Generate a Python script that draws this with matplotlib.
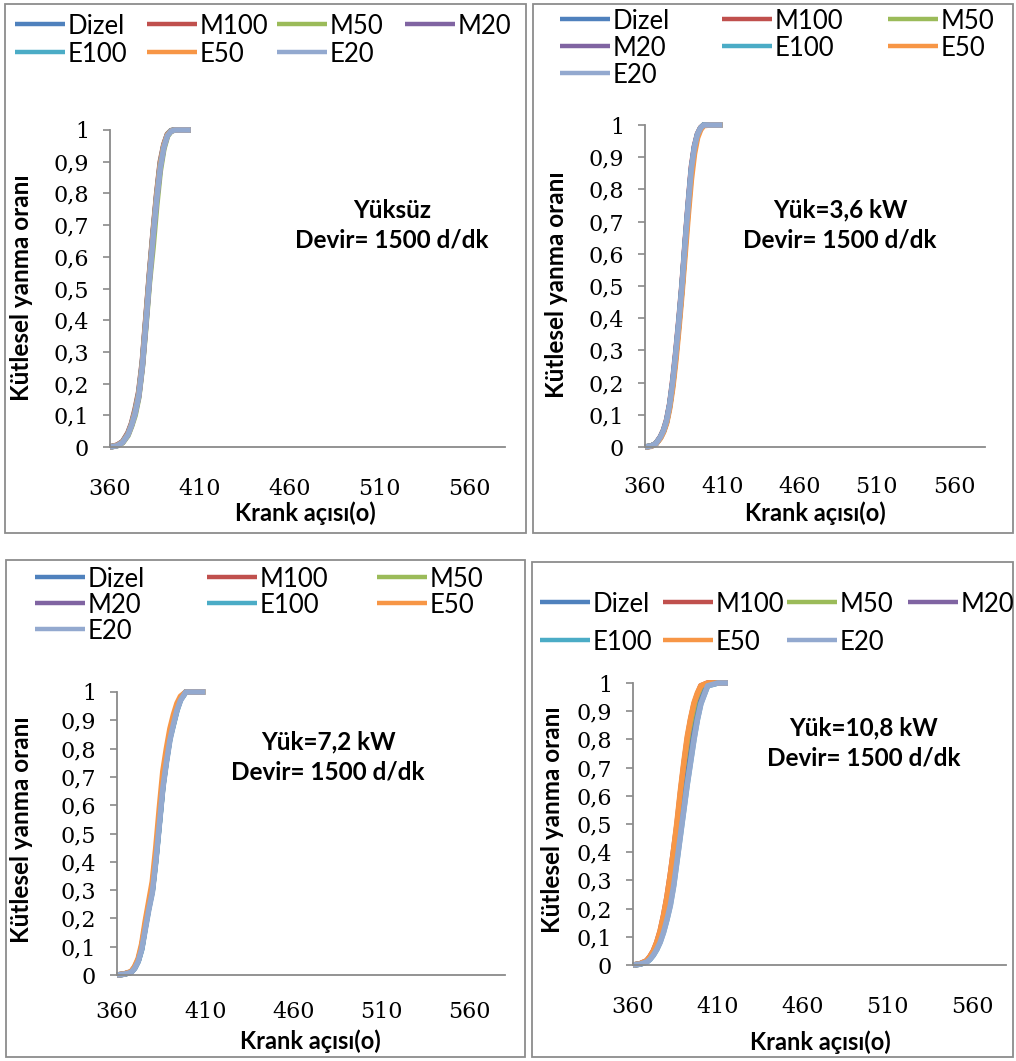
import matplotlib
matplotlib.use("Agg")
from matplotlib import pyplot as plt
from matplotlib.patches import Rectangle
from matplotlib.lines import Line2D

# seri isimleri ve renkleri (Excel 2007 varsayilan)
series = ['Dizel', 'M100', 'M50', 'M20', 'E100', 'E50', 'E20']
colors = ['#4F81BD', '#C0504D', '#9BBB59', '#8064A2', '#4BACC6', '#F79646', '#93A9CF']

yticks = [0, 0.1, 0.2, 0.3, 0.4, 0.5, 0.6, 0.7, 0.8, 0.9, 1.0]
ytick_labels = ['0', '0,1', '0,2', '0,3', '0,4', '0,5', '0,6', '0,7', '0,8', '0,9', '1']
xticks = [360, 410, 460, 510, 560]

# Yuksuz
x_p1 = [360, 364, 367, 370, 372, 374, 376, 378, 380, 382, 384, 386, 388, 390, 392, 394, 396, 400, 405]
p1 = {
    'Dizel': [0, 0.005, 0.015, 0.04, 0.07, 0.11, 0.165, 0.26, 0.40, 0.54, 0.67, 0.79, 0.89, 0.95, 0.985, 0.997, 1, 1, 1],
    'M100':  [0, 0.006, 0.017, 0.045, 0.075, 0.12, 0.175, 0.27, 0.41, 0.55, 0.68, 0.80, 0.90, 0.955, 0.987, 0.998, 1, 1, 1],
    'M50':   [0, 0.004, 0.013, 0.036, 0.065, 0.10, 0.155, 0.25, 0.38, 0.52, 0.63, 0.76, 0.87, 0.94, 0.98, 0.996, 1, 1, 1],
    'M20':   [0, 0.005, 0.015, 0.04, 0.07, 0.11, 0.16, 0.255, 0.39, 0.535, 0.665, 0.785, 0.885, 0.948, 0.984, 0.997, 1, 1, 1],
    'E100':  [0, 0.005, 0.016, 0.042, 0.072, 0.115, 0.17, 0.265, 0.405, 0.545, 0.675, 0.795, 0.895, 0.952, 0.986, 0.998, 1, 1, 1],
    'E50':   [0, 0.005, 0.015, 0.04, 0.07, 0.11, 0.165, 0.26, 0.40, 0.54, 0.67, 0.79, 0.89, 0.95, 0.985, 0.997, 1, 1, 1],
    'E20':   [0, 0.004, 0.014, 0.038, 0.068, 0.105, 0.16, 0.255, 0.39, 0.53, 0.66, 0.78, 0.88, 0.945, 0.982, 0.996, 1, 1, 1],
}

# Yuk=3,6 kW
x_p2 = [360, 364, 367, 370, 372, 374, 376, 378, 380, 382, 384, 386, 388, 390, 392, 394, 396, 398, 402, 410]
p2 = {
    'Dizel': [0, 0.003, 0.01, 0.03, 0.05, 0.08, 0.13, 0.20, 0.29, 0.39, 0.50, 0.63, 0.75, 0.86, 0.93, 0.97, 0.99, 1, 1, 1],
    'M100':  [0, 0.003, 0.011, 0.032, 0.053, 0.085, 0.135, 0.21, 0.30, 0.40, 0.51, 0.64, 0.76, 0.87, 0.935, 0.973, 0.992, 1, 1, 1],
    'M50':   [0, 0.003, 0.01, 0.029, 0.049, 0.078, 0.127, 0.195, 0.285, 0.385, 0.495, 0.62, 0.74, 0.85, 0.925, 0.968, 0.99, 1, 1, 1],
    'M20':   [0, 0.003, 0.01, 0.03, 0.05, 0.08, 0.13, 0.20, 0.29, 0.39, 0.50, 0.63, 0.75, 0.86, 0.93, 0.97, 0.99, 1, 1, 1],
    'E100':  [0, 0.003, 0.01, 0.03, 0.05, 0.08, 0.13, 0.20, 0.29, 0.39, 0.50, 0.63, 0.75, 0.86, 0.93, 0.97, 0.99, 1, 1, 1],
    'E50':   [0, 0.002, 0.009, 0.027, 0.046, 0.074, 0.12, 0.185, 0.27, 0.37, 0.48, 0.60, 0.72, 0.83, 0.91, 0.96, 0.985, 0.998, 1, 1],
    'E20':   [0, 0.003, 0.01, 0.031, 0.051, 0.082, 0.132, 0.205, 0.295, 0.395, 0.505, 0.635, 0.755, 0.865, 0.932, 0.972, 0.991, 1, 1, 1],
}

# Yuk=7,2 kW
x_p3 = [360, 364, 368, 370, 372, 374, 376, 378, 380, 382, 384, 386, 388, 390, 392, 394, 396, 399, 404, 410]
p3 = {
    'Dizel': [0, 0.003, 0.01, 0.025, 0.05, 0.095, 0.17, 0.24, 0.30, 0.41, 0.54, 0.67, 0.76, 0.84, 0.89, 0.94, 0.975, 1, 1, 1],
    'M100':  [0, 0.003, 0.011, 0.027, 0.053, 0.10, 0.175, 0.245, 0.31, 0.42, 0.55, 0.68, 0.77, 0.85, 0.90, 0.945, 0.978, 1, 1, 1],
    'M50':   [0, 0.003, 0.01, 0.025, 0.05, 0.095, 0.17, 0.24, 0.30, 0.41, 0.54, 0.67, 0.76, 0.84, 0.89, 0.94, 0.975, 1, 1, 1],
    'M20':   [0, 0.003, 0.01, 0.025, 0.05, 0.095, 0.17, 0.24, 0.30, 0.41, 0.54, 0.67, 0.76, 0.84, 0.89, 0.94, 0.975, 1, 1, 1],
    'E100':  [0, 0.003, 0.01, 0.024, 0.048, 0.09, 0.165, 0.235, 0.295, 0.405, 0.535, 0.665, 0.755, 0.835, 0.885, 0.935, 0.972, 1, 1, 1],
    'E50':   [0, 0.004, 0.012, 0.03, 0.058, 0.11, 0.19, 0.26, 0.33, 0.45, 0.59, 0.72, 0.80, 0.87, 0.92, 0.96, 0.985, 1, 1, 1],
    'E20':   [0, 0.003, 0.009, 0.023, 0.047, 0.09, 0.16, 0.23, 0.29, 0.40, 0.53, 0.66, 0.75, 0.83, 0.885, 0.935, 0.97, 1, 1, 1],
}

# Yuk=10,8 kW
x_p4 = [360, 364, 368, 370, 372, 374, 376, 378, 380, 382, 384, 386, 388, 390, 392, 394, 396, 398, 400, 404, 410, 416]
p4 = {
    'Dizel': [0, 0.003, 0.012, 0.024, 0.04, 0.065, 0.097, 0.14, 0.19, 0.25, 0.33, 0.42, 0.51, 0.61, 0.70, 0.78, 0.85, 0.90, 0.95, 0.995, 1, 1],
    'M100':  [0, 0.004, 0.015, 0.03, 0.05, 0.08, 0.12, 0.175, 0.24, 0.32, 0.41, 0.50, 0.61, 0.71, 0.80, 0.87, 0.925, 0.96, 0.99, 1, 1, 1],
    'M50':   [0, 0.003, 0.012, 0.025, 0.042, 0.068, 0.10, 0.145, 0.20, 0.26, 0.34, 0.43, 0.52, 0.62, 0.71, 0.79, 0.86, 0.91, 0.955, 0.997, 1, 1],
    'M20':   [0, 0.003, 0.011, 0.022, 0.038, 0.06, 0.09, 0.13, 0.175, 0.23, 0.30, 0.39, 0.48, 0.57, 0.66, 0.74, 0.82, 0.88, 0.935, 0.993, 1, 1],
    'E100':  [0, 0.003, 0.01, 0.02, 0.035, 0.055, 0.082, 0.118, 0.162, 0.215, 0.285, 0.375, 0.465, 0.555, 0.645, 0.725, 0.805, 0.873, 0.928, 0.99, 1, 1],
    'E50':   [0, 0.004, 0.015, 0.03, 0.05, 0.08, 0.12, 0.175, 0.24, 0.32, 0.41, 0.51, 0.62, 0.72, 0.81, 0.875, 0.93, 0.965, 0.99, 1, 1, 1],
    'E20':   [0, 0.003, 0.01, 0.02, 0.035, 0.055, 0.08, 0.115, 0.16, 0.21, 0.28, 0.37, 0.46, 0.55, 0.64, 0.72, 0.80, 0.87, 0.925, 0.99, 1, 1],
}

W, H = 1016, 1061
fig = plt.figure(figsize=(W / 100, H / 100), dpi=100)
plt.rcParams['font.family'] = ['Lato', 'DejaVu Sans']


def fx(px):
    return px / W


def fy(py):
    return 1 - py / H


# panel yerlesimi (piksel): kutu, cizim alani, lejant sutun/satirlari, yazilar
panels = [
    dict(x=x_p1, data=p1, box=(5, 4, 526, 533), plot=(110, 130, 505, 447),
         cols=[15, 147, 277, 405], rows=[24, 52], xpad=22, ylab=(22, 288), xlab=(305, 513),
         note=(392, 210, 'Yüksüz')),
    dict(x=x_p2, data=p2, box=(533, 4, 1013, 533), plot=(645, 125, 985, 447),
         cols=[560, 722, 888], rows=[19, 46, 73], xpad=21, ylab=(557, 285), xlab=(815, 513),
         note=(840, 210, 'Yük=3,6 kW')),
    dict(x=x_p3, data=p3, box=(6, 560, 525, 1057), plot=(117, 692, 505, 975),
         cols=[35, 207, 377], rows=[577, 603, 629], xpad=19, ylab=(22, 830), xlab=(310, 1041),
         note=(328, 742, 'Yük=7,2 kW')),
    dict(x=x_p4, data=p4, box=(532, 562, 1013, 1057), plot=(633, 683, 1006, 965),
         cols=[540, 663, 787, 908], rows=[602, 640], xpad=22, ylab=(553, 820), xlab=(820, 1042),
         note=(864, 728, 'Yük=10,8 kW')),
]

for p in panels:
    bx0, by0, bx1, by1 = p['box']
    fig.add_artist(Rectangle((fx(bx0), fy(by1)), (bx1 - bx0) / W, (by1 - by0) / H,
                             transform=fig.transFigure, fill=False,
                             edgecolor='#8c8c8c', lw=1.3))
    l, t, r, b = p['plot']
    ax = fig.add_axes([fx(l), fy(b), (r - l) / W, (b - t) / H])
    for name, c in zip(series, colors):
        ax.plot(p['x'], p['data'][name], color=c, lw=4.0, label=name,
                clip_on=False, solid_capstyle='butt')
    ax.set_xlim(360, 580)
    ax.set_ylim(0, 1)
    ax.set_yticks(yticks, labels=ytick_labels)
    ax.set_xticks(xticks, labels=[str(v) for v in xticks])
    for s in ['top', 'right']:
        ax.spines[s].set_visible(False)
    for s in ['left', 'bottom']:
        ax.spines[s].set_color('#8a8a8a')
        ax.spines[s].set_linewidth(1.3)
    ax.tick_params(axis='y', length=5, width=1.2, color='#8a8a8a', pad=10,
                   labelsize=16, labelfontfamily='DejaVu Serif')
    ax.tick_params(axis='x', length=0, pad=p['xpad'],
                   labelsize=16, labelfontfamily='DejaVu Serif')

    # lejant: Excel gibi satir satir
    cols, rows = p['cols'], p['rows']
    for k, (name, c) in enumerate(zip(series, colors)):
        x0 = cols[k % len(cols)]
        y0 = rows[k // len(cols)]
        fig.add_artist(Line2D([fx(x0), fx(x0 + 50)], [fy(y0), fy(y0)],
                              transform=fig.transFigure, color=c, lw=3.2,
                              solid_capstyle='butt'))
        fig.text(fx(x0 + 53), fy(y0), name, ha='left', va='center_baseline', fontsize=18.5)

    fig.text(fx(p['ylab'][0]), fy(p['ylab'][1]), 'Kütlesel yanma oranı', rotation=90,
             ha='center', va='center', fontsize=17.5, fontweight='bold')
    fig.text(fx(p['xlab'][0]), fy(p['xlab'][1]), 'Krank açısı(o)',
             ha='center', va='center', fontsize=17, fontweight='bold')
    nx, ny, txt = p['note']
    fig.text(fx(nx), fy(ny), txt, ha='center', va='center', fontsize=17.5, fontweight='bold')
    fig.text(fx(nx), fy(ny + 30), 'Devir= 1500 d/dk', ha='center', va='center',
             fontsize=17.5, fontweight='bold')

fig.savefig('out.png', dpi=100)
